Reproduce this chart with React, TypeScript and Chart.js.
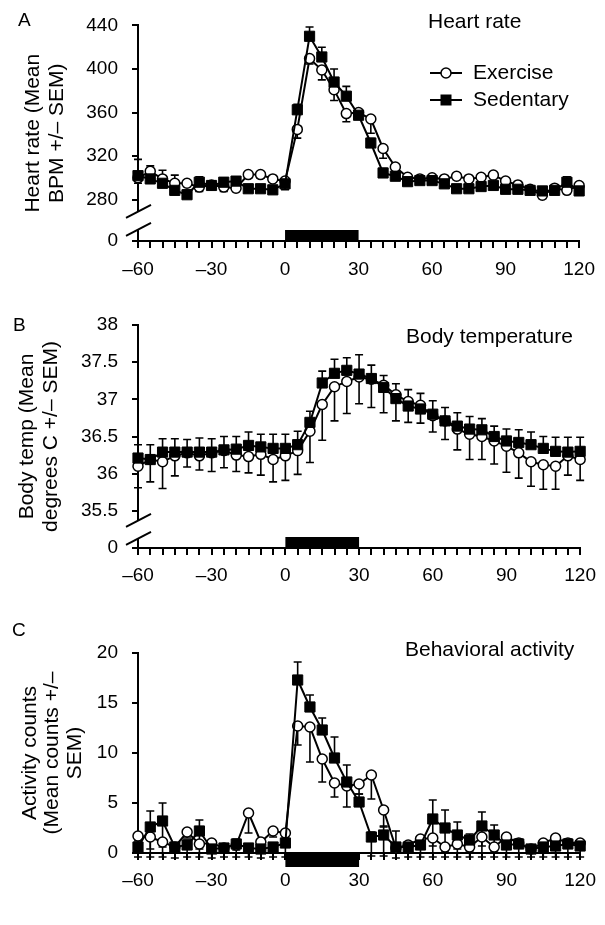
import React, { useEffect, useRef } from 'react';
import { Chart, registerables } from 'chart.js';

Chart.register(...registerables);

const FAMILY = '"Liberation Sans", Arial, Helvetica, sans-serif';

// ---- shared data ----
const TIME = [-60, -55, -50, -45, -40, -35, -30, -25, -20, -15, -10, -5, 0, 5, 10, 15, 20, 25, 30, 35, 40, 45, 50, 55, 60, 65, 70, 75, 80, 85, 90, 95, 100, 105, 110, 115, 120];
const EXERCISE_BLOCK = [0, 30];
const X_LABEL_TICKS = [-60, -30, 0, 30, 60, 90, 120];

// ---- Panel A: heart rate ----
const HR_TICKS = [280, 320, 360, 400, 440];
const HR_EXERCISE = [300, 306, 299, 295, 295, 291.5, 293.5, 291.5, 290.5, 303, 303, 299, 297, 344.5, 409.5, 399, 381, 359, 360, 354, 327, 310, 300.5, 299, 300, 299, 301.5, 299, 300.5, 302.5, 297, 293.5, 289.5, 284, 290.5, 288.5, 293];
const HR_EXERCISE_SEM = [5, 4, 4, 4, 3, 4, 3, 4, 3, 3, 3, 3, 8, 8, 5, 9, 10, 7.5, 4, 13, 9, 5, 3, 3, 3, 3, 3, 3, 3, 3, 3, 3, 3, 3, 3, 3, 3];
const HR_SEDENTARY = [302, 299, 295, 288.5, 284.5, 296, 293, 296, 297, 290, 290, 289, 294.5, 362.5, 430, 411, 388, 375, 357.5, 332, 304.5, 301.5, 296.5, 297.5, 297.5, 294.5, 290, 290, 292, 293, 289.5, 289.5, 288.5, 288, 288.5, 296, 288];
const HR_SEDENTARY_SEM = [15, 12, 12, 14, 4, 5, 4, 4, 4, 3, 3, 3, 4, 5, 8.5, 9, 12, 9, 4, 4, 4, 3, 3, 3, 3, 3, 3, 3, 3, 3, 3, 3, 3, 3, 3, 5, 3];

// ---- Panel B: body temperature ----
const TEMP_TICKS = [35.5, 36, 36.5, 37, 37.5, 38];
const TEMP_EXERCISE = [36.10, 36.19, 36.16, 36.24, 36.28, 36.24, 36.28, 36.31, 36.25, 36.23, 36.26, 36.19, 36.24, 36.31, 36.57, 36.93, 37.17, 37.24, 37.30, 37.27, 37.19, 37.06, 36.97, 36.92, 36.78, 36.71, 36.60, 36.53, 36.50, 36.44, 36.37, 36.28, 36.16, 36.12, 36.10, 36.24, 36.19];
const TEMP_EXERCISE_SEM = [0.29, 0.30, 0.36, 0.27, 0.19, 0.19, 0.25, 0.23, 0.22, 0.22, 0.28, 0.30, 0.33, 0.32, 0.42, 0.48, 0.46, 0.43, 0.36, 0.38, 0.37, 0.35, 0.28, 0.24, 0.22, 0.25, 0.28, 0.34, 0.31, 0.31, 0.35, 0.34, 0.33, 0.33, 0.31, 0.26, 0.28];
const TEMP_SEDENTARY = [36.21, 36.19, 36.29, 36.29, 36.29, 36.29, 36.29, 36.32, 36.33, 36.38, 36.36, 36.34, 36.34, 36.39, 36.69, 37.22, 37.35, 37.39, 37.34, 37.28, 37.16, 37.01, 36.91, 36.87, 36.80, 36.71, 36.64, 36.60, 36.59, 36.50, 36.44, 36.42, 36.39, 36.34, 36.30, 36.29, 36.30];
const TEMP_SEDENTARY_SEM = [0.18, 0.2, 0.18, 0.18, 0.17, 0.19, 0.18, 0.18, 0.17, 0.18, 0.17, 0.19, 0.19, 0.18, 0.15, 0.16, 0.19, 0.17, 0.26, 0.18, 0.16, 0.2, 0.22, 0.21, 0.18, 0.18, 0.18, 0.17, 0.15, 0.14, 0.16, 0.17, 0.17, 0.16, 0.19, 0.2, 0.19];

// ---- Panel C: behavioral activity ----
const ACT_TICKS = [0, 5, 10, 15, 20];
const ACT_EXERCISE = [1.7, 1.6, 1.1, 0.6, 2.1, 0.9, 1.0, 0.5, 0.8, 4.0, 1.1, 2.2, 2.0, 12.7, 12.6, 9.4, 7.0, 6.7, 6.9, 7.8, 4.3, 0.5, 0.8, 1.4, 1.5, 0.6, 0.9, 0.6, 1.6, 0.6, 1.6, 1.0, 0.4, 1.0, 1.5, 1.0, 1.0];
const ACT_EXERCISE_SEM = [0.5, 1.2, 0.5, 0.5, 0.6, 0.5, 0.5, 0.4, 0.5, 2.0, 0.6, 0.6, 0.6, 1.9, 3.5, 2.3, 1.4, 2.1, 1.0, 2.4, 1.7, 0.5, 0.4, 0.5, 0.8, 0.4, 0.5, 0.4, 0.9, 0.4, 0.5, 0.5, 0.4, 0.5, 0.5, 0.5, 0.5];
const ACT_SEDENTARY = [0.6, 2.6, 3.2, 0.6, 0.8, 2.2, 0.4, 0.5, 0.9, 0.5, 0.4, 0.6, 1.0, 17.3, 14.6, 12.3, 9.5, 7.1, 5.1, 1.6, 1.8, 0.6, 0.6, 0.8, 3.4, 2.5, 1.8, 1.3, 2.7, 1.8, 0.8, 0.9, 0.4, 0.6, 0.7, 0.9, 0.7];
const ACT_SEDENTARY_SEM = [0.4, 1.6, 1.8, 0.4, 0.5, 1.1, 0.4, 0.4, 0.5, 0.4, 0.4, 0.4, 0.5, 1.8, 1.2, 1.2, 2.1, 1.7, 0.8, 0.5, 0.9, 1.6, 0.5, 0.5, 1.9, 1.8, 1.3, 0.6, 1.4, 1.0, 0.5, 0.5, 0.4, 0.5, 0.5, 0.5, 0.5];
const ACT_SEDENTARY_SEM_LOW = [1.0, 3.0, 3.6, 1.1, 1.2, 2.6, 0.9, 0.9, 1.3, 0.9, 0.9, 1.0, 1.4, 0, 0, 0, 0, 0, 0, 1.9, 2.1, 1.1, 1.0, 1.2, 3.8, 2.9, 2.2, 1.7, 3.1, 2.2, 1.2, 1.3, 0.8, 1.0, 1.1, 1.3, 1.1];

type PanelCfg = {
  top: number; height: number; padTop: number; xHeight: number; xLabelPad: number;
  yMin: number; yMax: number; yTicks: number[]; broken: boolean;
  yTitle: string[]; titlePad: number; titleLH: number;
  letter: string; letterX: number; letterY: number;
  label: string; labelX: number; labelY: number;
  legend: boolean; barBelow: boolean;
  ex: number[]; exDown: number[];
  sed: number[]; sedUp: number[]; sedDown: number[] | null;
};

const PANELS: PanelCfg[] = [
  {
    top: 0, height: 290, padTop: 19, xHeight: 49, xLabelPad: 10,
    yMin: 242, yMax: 440, yTicks: HR_TICKS, broken: true,
    yTitle: ['Heart rate (Mean', 'BPM +/\u2013 SEM)'], titlePad: 21, titleLH: 24,
    letter: 'A', letterX: 18, letterY: 21,
    label: 'Heart rate', labelX: 428, labelY: 22,
    legend: true, barBelow: false,
    ex: HR_EXERCISE, exDown: HR_EXERCISE_SEM, sed: HR_SEDENTARY, sedUp: HR_SEDENTARY_SEM, sedDown: null,
  },
  {
    top: 290, height: 305, padTop: 35, xHeight: 47, xLabelPad: 9,
    yMin: 35, yMax: 38, yTicks: TEMP_TICKS, broken: true,
    yTitle: ['Body temp (Mean', 'degrees C +/\u2013 SEM)'], titlePad: 15, titleLH: 24,
    letter: 'B', letterX: 13, letterY: 36,
    label: 'Body temperature', labelX: 406, labelY: 47,
    legend: false, barBelow: false,
    ex: TEMP_EXERCISE, exDown: TEMP_EXERCISE_SEM, sed: TEMP_SEDENTARY, sedUp: TEMP_SEDENTARY_SEM, sedDown: null,
  },
  {
    top: 595, height: 330, padTop: 58, xHeight: 72, xLabelPad: 9,
    yMin: 0, yMax: 20, yTicks: ACT_TICKS, broken: false,
    yTitle: ['Activity counts', '(Mean counts +/\u2013', 'SEM)'], titlePad: 18.75, titleLH: 22.5,
    letter: 'C', letterX: 12, letterY: 36,
    label: 'Behavioral activity', labelX: 405, labelY: 55,
    legend: false, barBelow: true,
    ex: ACT_EXERCISE, exDown: ACT_EXERCISE_SEM, sed: ACT_SEDENTARY, sedUp: ACT_SEDENTARY_SEM, sedDown: ACT_SEDENTARY_SEM_LOW,
  },
];

const fmtX = (v: number) => (v < 0 ? '\u2013' + Math.abs(v) : String(v));

function makeDecor(p: PanelCfg) {
  return {
    id: 'decor' + p.letter,
    beforeDatasetsDraw(chart: any) {
      const { ctx } = chart;
      const y = chart.scales.y;
      const x = chart.scales.x;
      const sets: [number[], number[] | null, number][] = [
        [p.ex, p.exDown, -1],
        [p.sed, p.sedUp, 1],
        [p.sed, p.sedDown, -1],
      ];
      ctx.save();
      ctx.strokeStyle = '#000';
      ctx.lineWidth = 1.6;
      for (const [vals, errs, dir] of sets) {
        if (!errs) continue;
        vals.forEach((v, j) => {
          const e = errs[j];
          if (!e) return;
          const px = x.getPixelForValue(TIME[j]);
          const py0 = y.getPixelForValue(v);
          const py1 = y.getPixelForValue(v + dir * e);
          ctx.beginPath();
          ctx.moveTo(px, py0);
          ctx.lineTo(px, py1);
          ctx.moveTo(px - 4, py1);
          ctx.lineTo(px + 4, py1);
          ctx.stroke();
        });
      }
      ctx.restore();
    },
    afterDraw(chart: any) {
      const { ctx, chartArea } = chart;
      const x = chart.scales.x;
      const y = chart.scales.y;
      ctx.save();
      // exercise period bar
      const x0 = x.getPixelForValue(EXERCISE_BLOCK[0]);
      const x1 = x.getPixelForValue(EXERCISE_BLOCK[1]);
      ctx.fillStyle = '#000';
      if (p.barBelow) ctx.fillRect(x0, chartArea.bottom - 1, x1 - x0, 15);
      else ctx.fillRect(x0, chartArea.bottom - 11, x1 - x0, 12);
      // axis break
      if (p.broken) {
        const ax = chartArea.left;
        const yLow = y.getPixelForValue(p.yTicks[0]);
        const mid = (yLow + chartArea.bottom) / 2;
        ctx.fillStyle = '#fff';
        ctx.fillRect(ax - 3, mid - 9, 6, 18);
        ctx.strokeStyle = '#000';
        ctx.lineWidth = 2;
        for (const cy of [mid - 9, mid + 9]) {
          ctx.beginPath();
          ctx.moveTo(ax - 12, cy + 6.5);
          ctx.lineTo(ax + 13, cy - 6.5);
          ctx.stroke();
        }
      }
      // texts
      ctx.fillStyle = '#000';
      ctx.textBaseline = 'middle';
      ctx.textAlign = 'left';
      ctx.font = `19px ${FAMILY}`;
      ctx.fillText(p.letter, p.letterX, p.letterY);
      ctx.font = `21px ${FAMILY}`;
      ctx.fillText(p.label, p.labelX, p.labelY);
      if (p.legend) {
        const rows: [number, string, string][] = [[73, 'circle', 'Exercise'], [100, 'rect', 'Sedentary']];
        for (const [ry, shape, text] of rows) {
          ctx.strokeStyle = '#000';
          ctx.lineWidth = 2;
          ctx.beginPath();
          ctx.moveTo(430, ry);
          ctx.lineTo(462, ry);
          ctx.stroke();
          if (shape === 'circle') {
            ctx.beginPath();
            ctx.arc(446, ry, 5, 0, Math.PI * 2);
            ctx.fillStyle = '#fff';
            ctx.fill();
            ctx.lineWidth = 1.5;
            ctx.stroke();
          } else {
            ctx.fillStyle = '#000';
            ctx.fillRect(446 - 5.5, ry - 5.5, 11, 11);
          }
          ctx.fillStyle = '#000';
          ctx.fillText(text, 473, ry);
        }
      }
      ctx.restore();
    },
  };
}

function buildConfig(p: PanelCfg): any {
  const yTickValues = p.broken ? [p.yMin, ...p.yTicks] : p.yTicks;
  return {
    type: 'line',
    data: {
      datasets: [
        {
          label: 'Sedentary',
          order: 0,
          clip: false,
          data: TIME.map((t, i) => ({ x: t, y: p.sed[i] })),
          borderColor: '#000',
          borderWidth: 2,
          backgroundColor: '#000',
          pointStyle: 'rect',
          pointRadius: 7.2,
          pointBorderWidth: 1,
          pointBorderColor: '#000',
          pointBackgroundColor: '#000',
          tension: 0,
        },
        {
          label: 'Exercise',
          order: 1,
          clip: false,
          data: TIME.map((t, i) => ({ x: t, y: p.ex[i] })),
          borderColor: '#000',
          borderWidth: 2,
          backgroundColor: '#fff',
          pointStyle: 'circle',
          pointRadius: 5,
          pointBorderWidth: 1.5,
          pointBorderColor: '#000',
          pointBackgroundColor: '#fff',
          tension: 0,
        },
      ],
    },
    options: {
      responsive: false,
      animation: false,
      devicePixelRatio: 1,
      layout: { padding: { top: p.padTop, right: 20, left: 0, bottom: 0 } },
      plugins: {
        legend: { display: false },
        tooltip: { enabled: false },
        title: { display: false },
      },
      scales: {
        x: {
          type: 'linear',
          min: -60,
          max: 120,
          ticks: {
            stepSize: 5,
            autoSkip: false,
            maxRotation: 0,
            minRotation: 0,
            padding: p.xLabelPad,
            color: '#000',
            font: { size: 19, family: FAMILY },
            callback: (v: number) => (X_LABEL_TICKS.includes(v) ? fmtX(v) : ''),
          },
          grid: { drawOnChartArea: false, drawTicks: true, tickLength: 7, color: '#000', lineWidth: 2 },
          border: { display: true, color: '#000', width: 2 },
          afterFit: (s: any) => { s.height = p.xHeight; },
        },
        y: {
          type: 'linear',
          min: p.yMin,
          max: p.yMax,
          afterBuildTicks: (s: any) => { s.ticks = yTickValues.map((v) => ({ value: v })); },
          ticks: {
            padding: 14,
            color: '#000',
            font: { size: 19, family: FAMILY },
            callback: (v: number) => (p.broken && v === p.yMin ? '0' : String(v)),
          },
          grid: { drawOnChartArea: false, drawTicks: true, tickLength: 6, color: '#000', lineWidth: 2 },
          border: { display: true, color: '#000', width: 2 },
          title: {
            display: true,
            text: p.yTitle,
            color: '#000',
            font: { size: 21, family: FAMILY, lineHeight: p.titleLH / 21 },
            padding: { top: p.titlePad, bottom: 0 },
          },
          afterFit: (s: any) => { s.width = 138; },
        },
      },
    },
    plugins: [makeDecor(p)],
  };
}

function PanelChart({ p }: { p: PanelCfg }) {
  const ref = useRef<HTMLCanvasElement>(null);
  useEffect(() => {
    if (!ref.current) return;
    const chart = new Chart(ref.current, buildConfig(p));
    return () => chart.destroy();
  }, [p]);
  return (
    <canvas
      ref={ref}
      width={605}
      height={p.height}
      style={{ position: 'absolute', left: 0, top: p.top, width: 605, height: p.height, display: 'block' }}
    />
  );
}

export default function App() {
  return (
    <div style={{ position: 'absolute', left: 0, top: 0, width: 605, height: 925, background: '#fff', overflow: 'hidden' }}>
      {PANELS.map((p) => (
        <PanelChart key={p.letter} p={p} />
      ))}
    </div>
  );
}
